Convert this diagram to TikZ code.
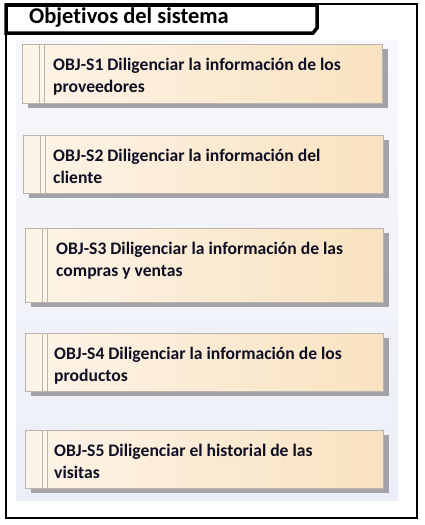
\documentclass[tikz,border=0pt]{standalone}
\usepackage{fontspec}
\setmainfont{Carlito}[Ligatures=CommonOff]
\usetikzlibrary{shadows,calc}

\definecolor{cremaIzq}{RGB}{253,244,232}
\definecolor{cremaDer}{RGB}{249,226,192}
\definecolor{bordeObj}{RGB}{185,180,172}
\definecolor{sombraObj}{RGB}{162,162,168}
\definecolor{panelArriba}{RGB}{247,248,251}
\definecolor{panelAbajo}{RGB}{236,239,247}
\definecolor{textoObj}{RGB}{15,15,35}

\tikzset{
  objbox/.style={draw=bordeObj, line width=1pt, left color=cremaIzq, right color=cremaDer,
    anchor=north west, inner sep=0pt,
    drop shadow={shadow xshift=5pt, shadow yshift=-4pt, fill=sombraObj, opacity=1}},
  objtext/.style={anchor=base west, align=left, inner sep=0pt, text=textoObj,
    font=\bfseries\fontsize{17.6}{22.5}\selectfont},
  objline/.style={draw=bordeObj, line width=1pt}
}

\begin{document}
\begin{tikzpicture}[x=1pt,y=-1pt]
  \useasboundingbox (0,0) rectangle (424,525);

  % Marco exterior
  \draw[line width=1.5pt] (6,4) rectangle (417,518);

  % Panel de fondo
  \fill[top color=panelArriba, bottom color=panelAbajo] (16,40) rectangle (398,500);

  % Pestaña del titulo
  \draw[line width=3.5pt, fill=white] (6,5) -- (317,5) -- (317,28) -- (313,33) -- (6,33) -- cycle;
  \node[anchor=base west, inner sep=0pt, font=\bfseries\fontsize{22.5}{26}\selectfont] (titulo) at (29,23) {Objetivos del sistema};

  % Objetivos
  \node[objbox, minimum width=360pt, minimum height=59pt] (obj1) at (22,44) {};
  \node[objbox, minimum width=360pt, minimum height=58pt] (obj2) at (23,135) {};
  \node[objbox, minimum width=358pt, minimum height=74pt] (obj3) at (25,228) {};
  \node[objbox, minimum width=358pt, minimum height=58pt] (obj4) at (25,333) {};
  \node[objbox, minimum width=358pt, minimum height=58pt] (obj5) at (25,430) {};

  % Doble linea a la izquierda
  \draw[objline] ($(obj1.north west)+(17,0)$) -- ($(obj1.south west)+(17,0)$);
  \draw[objline] ($(obj1.north west)+(22,0)$) -- ($(obj1.south west)+(22,0)$);
  \draw[objline] ($(obj2.north west)+(17,0)$) -- ($(obj2.south west)+(17,0)$);
  \draw[objline] ($(obj2.north west)+(22,0)$) -- ($(obj2.south west)+(22,0)$);
  \draw[objline] ($(obj3.north west)+(17,0)$) -- ($(obj3.south west)+(17,0)$);
  \draw[objline] ($(obj3.north west)+(22,0)$) -- ($(obj3.south west)+(22,0)$);
  \draw[objline] ($(obj4.north west)+(17,0)$) -- ($(obj4.south west)+(17,0)$);
  \draw[objline] ($(obj4.north west)+(22,0)$) -- ($(obj4.south west)+(22,0)$);
  \draw[objline] ($(obj5.north west)+(17,0)$) -- ($(obj5.south west)+(17,0)$);
  \draw[objline] ($(obj5.north west)+(22,0)$) -- ($(obj5.south west)+(22,0)$);

  % Textos (base = ultima linea)
  \node[objtext] (txt1) at ($(obj1.north west)+(31,48.5)$) {OBJ-S1 Diligenciar la información de los\\proveedores};
  \node[objtext] (txt2) at ($(obj2.north west)+(30,48.5)$) {OBJ-S2 Diligenciar la información del\\cliente};
  \node[objtext] (txt3) at ($(obj3.north west)+(31,48.5)$) {OBJ-S3 Diligenciar la información de las\\compras y ventas};
  \node[objtext] (txt4) at ($(obj4.north west)+(29,48.5)$) {OBJ-S4 Diligenciar la información de los\\productos};
  \node[objtext] (txt5) at ($(obj5.north west)+(29,48.5)$) {OBJ-S5 Diligenciar el historial de las\\visitas};
\end{tikzpicture}
\end{document}
